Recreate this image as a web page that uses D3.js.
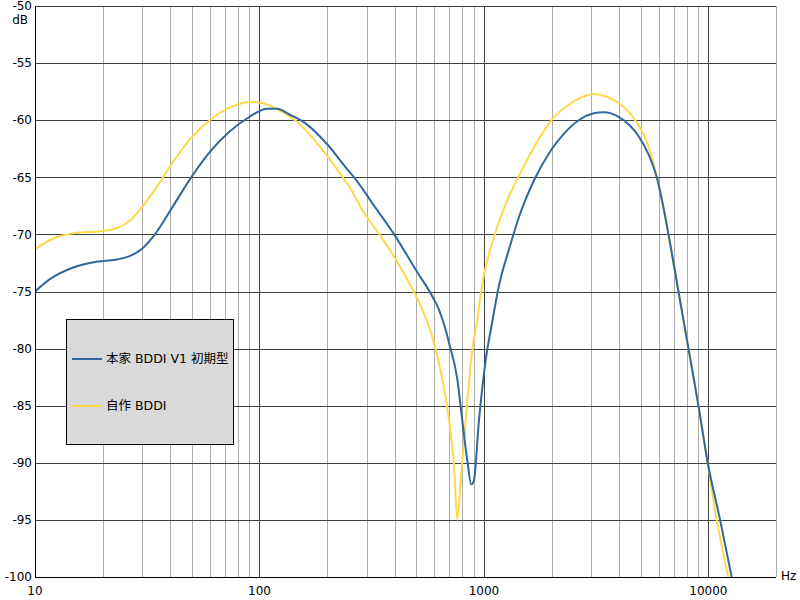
<!DOCTYPE html>
<html>
<head>
<meta charset="utf-8">
<script src="https://cdn.jsdelivr.net/npm/d3@7"></script>
<style>
  body { margin: 0; background: #fff; }
  svg { display: block; font-family: "DejaVu Sans", Verdana, sans-serif; }
</style>
</head>
<body>
<svg id="chart" width="800" height="600"></svg>
<script>
// ---- Data ----
const seriesNames = ["本家 BDDI V1 初期型", "自作 BDDI"];
const seriesColors = ["#32679c", "#ffd84a"];

const blueFreq = [10, 11.7, 14.8, 18.8, 23.1, 26.4, 29.8, 34.2, 39.8, 48.9, 60, 73.6, 90.3, 100, 107, 120, 136, 161, 198, 251, 264, 319, 398, 497, 580, 631, 676, 699, 761, 801, 843, 878, 903, 950, 1018, 1088, 1166, 1298, 1431, 1668, 1979, 2268, 2644, 3083, 3420, 3981, 4887, 5412, 5891, 6310, 6641, 7356, 8149, 9027, 9929, 11272, 12693];
const blueDb   = [-75.0, -73.9, -72.9, -72.4, -72.2, -71.9, -71.3, -70.0, -68.0, -65.2, -62.8, -61.0, -59.7, -59.2, -59.0, -59.0, -59.5, -60.3, -62.0, -64.5, -65.0, -67.3, -70.0, -73.1, -75.2, -76.6, -78.4, -79.5, -82.7, -86.3, -89.8, -91.9, -91.5, -86.3, -81.0, -77.7, -74.5, -71.2, -68.5, -65.3, -62.7, -61.2, -60.0, -59.4, -59.3, -59.7, -61.4, -63.0, -65.0, -67.7, -70.0, -75.0, -80.0, -85.0, -90.0, -95.0, -100.0];

const yellowFreq = [10, 11.9, 14.8, 20.1, 23.5, 26.4, 29.8, 33.6, 36.6, 39.8, 48.9, 60, 73.6, 90.3, 100, 119, 146, 198, 235, 251, 288, 342, 405, 489, 532, 585, 653, 699, 736, 761, 788, 829, 887, 934, 967, 1127, 1265, 1431, 1668, 1979, 2387, 3083, 3475, 3981, 4723, 5412, 5891, 6310, 6641, 7356, 8149, 9027, 9929, 10887, 12268];
const yellowDb   = [-71.3, -70.4, -69.9, -69.7, -69.4, -68.8, -67.7, -66.3, -65.2, -64.1, -61.7, -60.0, -58.9, -58.4, -58.45, -59.0, -60.1, -63.0, -65.0, -65.8, -67.9, -70.0, -72.2, -75.1, -76.6, -78.8, -82.7, -86.3, -90.3, -95.0, -91.5, -86.3, -80.1, -77.5, -75.2, -69.8, -67.1, -64.9, -62.4, -60.1, -58.65, -57.7, -57.9, -58.5, -60.0, -62.3, -65.0, -67.6, -70.0, -75.0, -80.0, -85.0, -90.0, -95.0, -100.0];

const xTickValues = [10, 100, 1000, 10000];
const xTickLabels = ["10", "100", "1000", "10000"];
const yTickValues = [-50, -55, -60, -65, -70, -75, -80, -85, -90, -95, -100];
const minorFreqs = [];
[10, 100, 1000, 10000].forEach(d => { for (let k = 2; k <= 9; k++) { if (d * k <= 20000) minorFreqs.push(d * k); } });

// ---- Layout ----
const svg = d3.select("#chart");
const pL = 35, pR = 776, pT = 6, pB = 577;
const x = d3.scaleLog().domain([10, 20000]).range([pL, pR]);
const y = d3.scaleLinear().domain([-100, -50]).range([pB, pT]);

const grid = svg.append("g");
grid.selectAll("line.minor").data(minorFreqs).join("line")
  .attr("x1", d => Math.round(x(d)) + 0.5).attr("x2", d => Math.round(x(d)) + 0.5)
  .attr("y1", pT).attr("y2", pB)
  .attr("stroke", "#acacac").attr("stroke-width", 1);
grid.selectAll("line.majorx").data([100, 1000, 10000]).join("line")
  .attr("x1", d => Math.round(x(d)) + 0.5).attr("x2", d => Math.round(x(d)) + 0.5)
  .attr("y1", pT).attr("y2", pB)
  .attr("stroke", "#404040").attr("stroke-width", 1);
grid.selectAll("line.majory").data(yTickValues.filter(v => v !== -100)).join("line")
  .attr("x1", pL).attr("x2", pR)
  .attr("y1", d => Math.round(y(d)) + 0.5).attr("y2", d => Math.round(y(d)) + 0.5)
  .attr("stroke", "#404040").attr("stroke-width", 1);

// ---- Curves ----
svg.append("defs").append("clipPath").attr("id", "plotclip")
  .append("rect").attr("x", pL).attr("y", pT).attr("width", pR - pL).attr("height", pB - pT);

const line = d3.line().x(d => x(d[0])).y(d => y(d[1])).curve(d3.curveMonotoneX);
const yellowData = yellowFreq.map((f, i) => [f, yellowDb[i]]);
const blueData = blueFreq.map((f, i) => [f, blueDb[i]]);

const curves = svg.append("g").attr("clip-path", "url(#plotclip)");
curves.append("path").datum(yellowData).attr("d", line)
  .attr("fill", "none").attr("stroke", seriesColors[1]).attr("stroke-width", 2);
curves.append("path").datum(blueData).attr("d", line)
  .attr("fill", "none").attr("stroke", seriesColors[0]).attr("stroke-width", 2);

// ---- Axes ----
svg.append("line").attr("x1", pL + 0.5).attr("x2", pL + 0.5).attr("y1", pT).attr("y2", pB + 1)
  .attr("stroke", "#000").attr("stroke-width", 1);
svg.append("line").attr("x1", pL).attr("x2", pR).attr("y1", pB + 0.5).attr("y2", pB + 0.5)
  .attr("stroke", "#000").attr("stroke-width", 1);

svg.append("g").selectAll("text").data(yTickValues).join("text")
  .attr("x", 32).attr("y", d => y(d)).attr("dy", "0.35em")
  .attr("text-anchor", "end").attr("font-size", 12).attr("fill", "#000")
  .text(d => d);
svg.append("text").attr("x", 28).attr("y", 20).attr("dy", "0.35em").attr("text-anchor", "end")
  .attr("font-size", 12).text("dB");

svg.append("g").selectAll("text").data(xTickValues).join("text")
  .attr("x", d => x(d)).attr("y", 591).attr("dy", "0.35em")
  .attr("text-anchor", "middle").attr("font-size", 12)
  .text((d, i) => xTickLabels[i]);
svg.append("text").attr("x", 781).attr("y", 576).attr("dy", "0.35em")
  .attr("font-size", 12).text("Hz");

// ---- Legend ----
const lg = svg.append("g");
lg.append("rect").attr("x", 66.5).attr("y", 319.5).attr("width", 167).attr("height", 125)
  .attr("fill", "#d9d9d9").attr("stroke", "#000").attr("stroke-width", 1);
const legendY = [359, 406];
seriesNames.forEach((name, i) => {
  lg.append("line").attr("x1", 72).attr("x2", 102).attr("y1", legendY[i]).attr("y2", legendY[i])
    .attr("stroke", seriesColors[i]).attr("stroke-width", 2);
  lg.append("text").attr("x", 106).attr("y", legendY[i]).attr("dy", "0.35em")
    .attr("font-size", 12.5).attr("fill", "#000")
    .style("font-family", "'DejaVu Sans', 'Noto Sans CJK JP', sans-serif")
    .text(name);
});
</script>
</body>
</html>
